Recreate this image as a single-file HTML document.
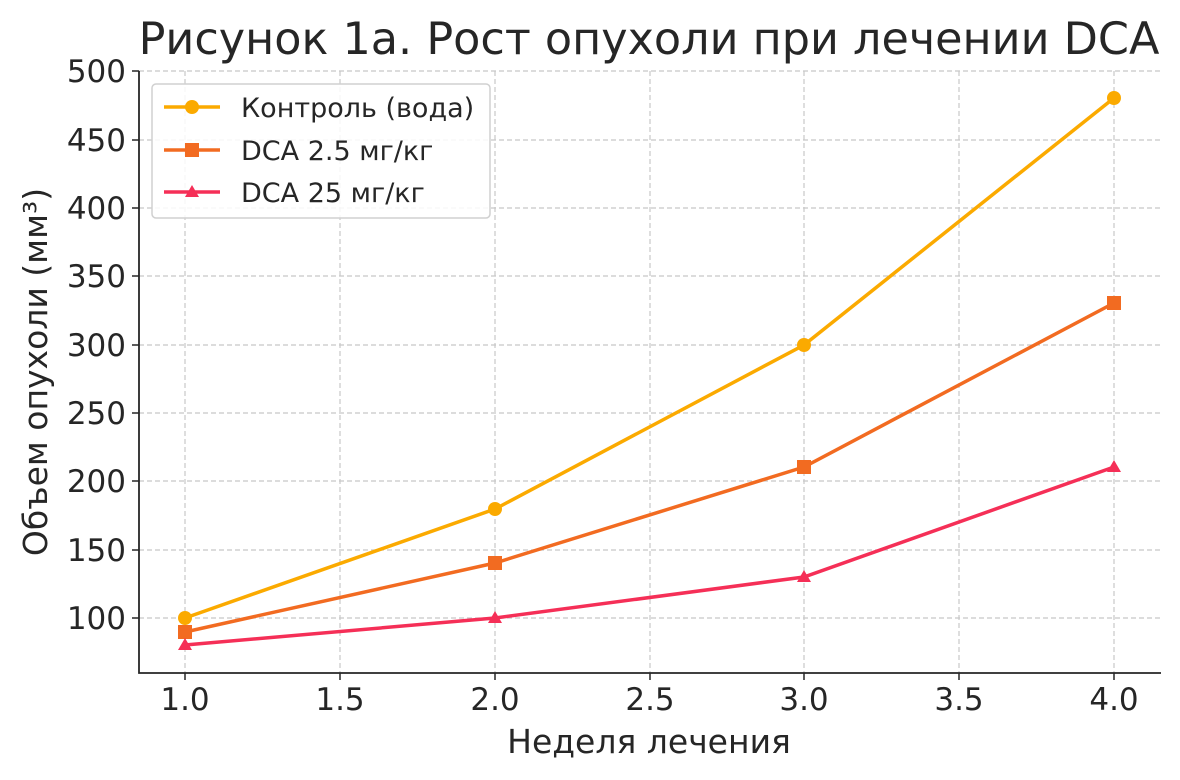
<!DOCTYPE html>
<html><head><meta charset="utf-8"><style>body{margin:0;background:#fff}svg{display:block}text{font-family:"DejaVu Sans","Liberation Sans",sans-serif;fill:#262626}</style></head>
<body>
<svg width="1180" height="780" viewBox="0 0 1180 780">
<rect width="1180" height="780" fill="#fff"/>
<text x="649" y="54" font-size="44.5" text-anchor="middle">Рисунок 1а. Рост опухоли при лечении DCA</text>
<g stroke="#c8c8c8" stroke-width="1.2" stroke-dasharray="5,3">
<line x1="185" y1="71" x2="185" y2="673"/><line x1="340" y1="71" x2="340" y2="673"/><line x1="495" y1="71" x2="495" y2="673"/><line x1="650" y1="71" x2="650" y2="673"/><line x1="804" y1="71" x2="804" y2="673"/><line x1="959" y1="71" x2="959" y2="673"/><line x1="1114" y1="71" x2="1114" y2="673"/>
<line x1="139" y1="618" x2="1161" y2="618"/><line x1="139" y1="550" x2="1161" y2="550"/><line x1="139" y1="481" x2="1161" y2="481"/><line x1="139" y1="413" x2="1161" y2="413"/><line x1="139" y1="345" x2="1161" y2="345"/><line x1="139" y1="276" x2="1161" y2="276"/><line x1="139" y1="208" x2="1161" y2="208"/><line x1="139" y1="140" x2="1161" y2="140"/><line x1="139" y1="71" x2="1161" y2="71"/>
</g>
<path d="M139 71V673H1161" fill="none" stroke="#262626" stroke-width="1.8"/>
<g stroke="#262626" stroke-width="1.5">
<line x1="185" y1="673" x2="185" y2="680"/><line x1="340" y1="673" x2="340" y2="680"/><line x1="495" y1="673" x2="495" y2="680"/><line x1="650" y1="673" x2="650" y2="680"/><line x1="804" y1="673" x2="804" y2="680"/><line x1="959" y1="673" x2="959" y2="680"/><line x1="1114" y1="673" x2="1114" y2="680"/>
<line x1="132" y1="618" x2="139" y2="618"/><line x1="132" y1="550" x2="139" y2="550"/><line x1="132" y1="481" x2="139" y2="481"/><line x1="132" y1="413" x2="139" y2="413"/><line x1="132" y1="345" x2="139" y2="345"/><line x1="132" y1="276" x2="139" y2="276"/><line x1="132" y1="208" x2="139" y2="208"/><line x1="132" y1="140" x2="139" y2="140"/><line x1="132" y1="71" x2="139" y2="71"/>
</g>
<g font-size="31" text-anchor="middle">
<text x="185" y="710">1.0</text><text x="340" y="710">1.5</text><text x="495" y="710">2.0</text><text x="650" y="710">2.5</text><text x="804" y="710">3.0</text><text x="959" y="710">3.5</text><text x="1114" y="710">4.0</text>
</g>
<g font-size="31" text-anchor="end">
<text x="126" y="629">100</text><text x="126" y="561">150</text><text x="126" y="492">200</text><text x="126" y="424">250</text><text x="126" y="356">300</text><text x="126" y="287">350</text><text x="126" y="219">400</text><text x="126" y="151">450</text><text x="126" y="82">500</text>
</g>
<text x="649" y="753" font-size="33" text-anchor="middle">Неделя лечения</text>
<text transform="translate(47 372) rotate(-90)" font-size="33" text-anchor="middle">Объем опухоли (мм³)</text>
<polyline points="185,618 495,509 804,345 1114,98" fill="none" stroke="#fbaa00" stroke-width="3.5"/>
<g fill="#fbaa00"><circle cx="185" cy="618" r="7"/><circle cx="495" cy="509" r="7"/><circle cx="804" cy="345" r="7"/><circle cx="1114" cy="98" r="7"/></g>
<polyline points="185,632 495,563 804,467 1114,303" fill="none" stroke="#f26b21" stroke-width="3.5"/>
<g fill="#f26b21"><rect x="178" y="625" width="14" height="14"/><rect x="488" y="556" width="14" height="14"/><rect x="797" y="460" width="14" height="14"/><rect x="1107" y="296" width="14" height="14"/></g>
<polyline points="185,645 495,618 804,577 1114,467" fill="none" stroke="#f52f57" stroke-width="3.5"/>
<g fill="#f52f57"><path d="M185 638l7 12h-14z"/><path d="M495 611l7 12h-14z"/><path d="M804 570l7 12h-14z"/><path d="M1114 460l7 12h-14z"/></g>
<rect x="152" y="84" width="338" height="134" rx="4" fill="#fff" fill-opacity="0.85" stroke="#d0d0d0" stroke-width="1.5"/>
<line x1="164" y1="107" x2="220" y2="107" stroke="#fbaa00" stroke-width="3.5"/><circle cx="192" cy="107" r="7" fill="#fbaa00"/>
<line x1="164" y1="150" x2="220" y2="150" stroke="#f26b21" stroke-width="3.5"/><rect x="185" y="143" width="14" height="14" fill="#f26b21"/>
<line x1="164" y1="192" x2="220" y2="192" stroke="#f52f57" stroke-width="3.5"/><path d="M192 185l7 12h-14z" fill="#f52f57"/>
<g font-size="27"><text x="241" y="117">Контроль (вода)</text><text x="241" y="160">DCA 2.5 мг/кг</text><text x="241" y="202">DCA 25 мг/кг</text></g>
</svg>
</body></html>
